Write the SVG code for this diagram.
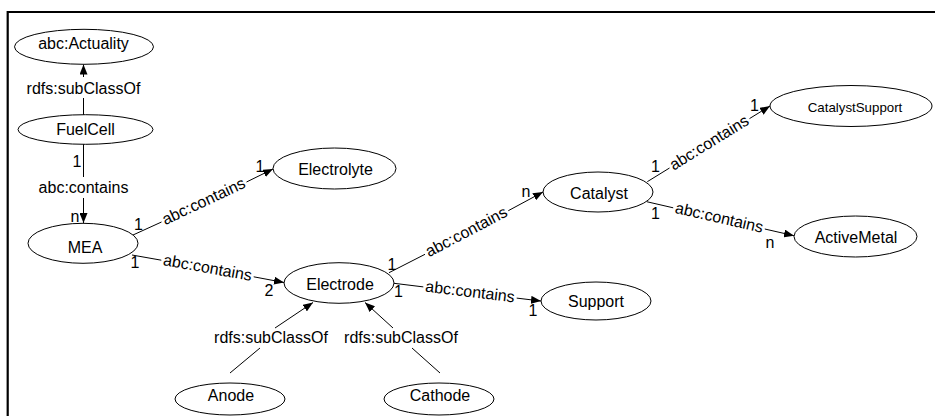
<svg xmlns="http://www.w3.org/2000/svg" width="935" height="416" viewBox="0 0 935 416">
<style>
text{font-family:"Liberation Sans",Arial,sans-serif;font-size:16px;fill:#000}
.n ellipse{fill:#fff;stroke:#000;stroke-width:1}
.n text{text-anchor:middle}
.e line{stroke:#000;stroke-width:1}
.lbl{text-anchor:middle}
.frame{stroke:#000;stroke-width:2.2;fill:none}
</style>
<defs>
<marker id="arr" markerWidth="10" markerHeight="8" refX="10" refY="4" orient="auto" markerUnits="userSpaceOnUse">
<path d="M0,0 L10,4 L0,8 z" fill="#000"/>
</marker>
</defs>
<rect width="935" height="416" fill="#fff"/>
<path class="frame" d="M7.7,416 V12 H935"/>

<g id="edges" class="e">
<!-- FuelCell -> Actuality -->
<line x1="83.5" y1="115" x2="83.5" y2="98"/>
<line x1="83.5" y1="77" x2="83.5" y2="64.5" marker-end="url(#arr)"/>
<text class="lbl" x="83.5" y="94">rdfs:subClassOf</text>
<!-- FuelCell -> MEA -->
<line x1="83.5" y1="144" x2="83.5" y2="177"/>
<line x1="83.5" y1="198" x2="83.5" y2="223" marker-end="url(#arr)"/>
<text class="lbl" x="83.5" y="192.5">abc:contains</text>
<text class="lbl" x="77" y="166.5">1</text>
<text class="lbl" x="75" y="221.5">n</text>
<!-- MEA -> Electrolyte -->
<line x1="133" y1="235" x2="161.5" y2="222"/>
<line x1="246.5" y1="182" x2="273" y2="169" marker-end="url(#arr)"/>
<text class="lbl" transform="translate(204,202) rotate(-25.2)" y="4.5">abc:contains</text>
<text class="lbl" x="138.5" y="230">1</text>
<text class="lbl" x="260" y="171.5">1</text>
<!-- MEA -> Electrode -->
<line x1="132" y1="255" x2="161.3" y2="260.2"/>
<line x1="253.7" y1="276.8" x2="284" y2="282.5" marker-end="url(#arr)"/>
<text class="lbl" transform="translate(207.5,268.5) rotate(10.1)" y="4.5">abc:contains</text>
<text class="lbl" x="135" y="267.5">1</text>
<text class="lbl" x="269" y="296">2</text>
<!-- Electrode -> Catalyst -->
<line x1="389" y1="272.7" x2="425" y2="254.3"/>
<line x1="508.3" y1="210.7" x2="543" y2="192" marker-end="url(#arr)"/>
<text class="lbl" transform="translate(466.7,232.5) rotate(-27.7)" y="4.5">abc:contains</text>
<text class="lbl" x="392" y="270">1</text>
<text class="lbl" x="526" y="197">n</text>
<!-- Electrode -> Support -->
<line x1="394" y1="283.3" x2="423.3" y2="286.9"/>
<line x1="516.7" y1="298.1" x2="541" y2="301" marker-end="url(#arr)"/>
<text class="lbl" transform="translate(470,292.5) rotate(6.9)" y="4.5">abc:contains</text>
<text class="lbl" x="398.5" y="297">1</text>
<text class="lbl" x="533" y="316">1</text>
<!-- Catalyst -> CatalystSupport -->
<line x1="647.3" y1="181.7" x2="669.5" y2="168"/>
<line x1="749.5" y1="118.6" x2="770" y2="106" marker-end="url(#arr)"/>
<text class="lbl" transform="translate(709.5,143.3) rotate(-31.7)" y="4.5">abc:contains</text>
<text class="lbl" x="655.5" y="172">1</text>
<text class="lbl" x="754.5" y="111">1</text>
<!-- Catalyst -> ActiveMetal -->
<line x1="646.7" y1="201.7" x2="673.2" y2="207.8"/>
<line x1="764.8" y1="229" x2="794" y2="235.7" marker-end="url(#arr)"/>
<text class="lbl" transform="translate(719,218.4) rotate(13)" y="4.5">abc:contains</text>
<text class="lbl" x="655.5" y="218.7">1</text>
<text class="lbl" x="770" y="248">n</text>
<!-- Anode -> Electrode -->
<line x1="230" y1="373" x2="260" y2="348"/>
<line x1="275" y1="328" x2="313" y2="302.5" marker-end="url(#arr)"/>
<text class="lbl" x="271" y="343">rdfs:subClassOf</text>
<!-- Cathode -> Electrode -->
<line x1="440" y1="373" x2="412" y2="348"/>
<line x1="393" y1="328" x2="365" y2="302.5" marker-end="url(#arr)"/>
<text class="lbl" x="401" y="343">rdfs:subClassOf</text>
</g>

<g id="actuality" class="n"><ellipse cx="84" cy="46.8" rx="69.5" ry="17.5"/><text x="83.5" y="48.5">abc:Actuality</text></g>
<g id="fuelcell" class="n"><ellipse cx="85.5" cy="129.5" rx="67.5" ry="14.8"/><text x="85.5" y="135">FuelCell</text></g>
<g id="mea" class="n"><ellipse cx="83" cy="243.3" rx="55" ry="20"/><text x="85" y="252.5">MEA</text></g>
<g id="electrolyte" class="n"><ellipse cx="334.5" cy="168.5" rx="61.5" ry="20.5"/><text x="335.5" y="174.8">Electrolyte</text></g>
<g id="electrode" class="n"><ellipse cx="339" cy="283" rx="55" ry="20.3"/><text x="340" y="289.8">Electrode</text></g>
<g id="catalyst" class="n"><ellipse cx="598" cy="192" rx="55" ry="20"/><text x="599" y="198.8">Catalyst</text></g>
<g id="support" class="n"><ellipse cx="596" cy="301" rx="55" ry="19"/><text x="596" y="307">Support</text></g>
<g id="catalystsupport" class="n"><ellipse cx="851" cy="106" rx="81" ry="20.5"/><text x="855" y="111.5" style="font-size:13.3px">CatalystSupport</text></g>
<g id="activemetal" class="n"><ellipse cx="855.5" cy="236.5" rx="61.5" ry="20.5"/><text x="856" y="243">ActiveMetal</text></g>
<g id="anode" class="n"><ellipse cx="230" cy="399" rx="55" ry="16"/><text x="231" y="401">Anode</text></g>
<g id="cathode" class="n"><ellipse cx="439" cy="399" rx="55" ry="16"/><text x="440" y="401">Cathode</text></g>
</svg>
